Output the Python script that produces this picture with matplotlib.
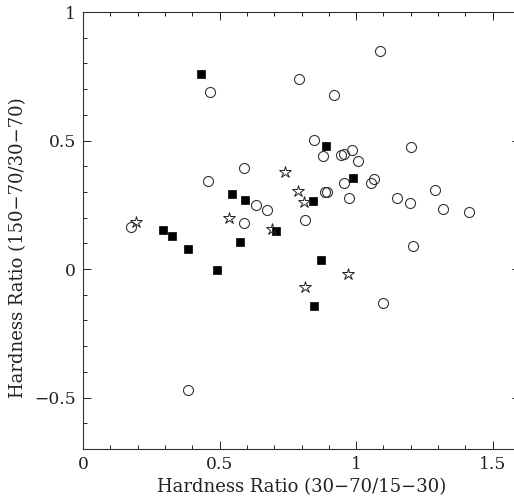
import matplotlib
matplotlib.use("Agg")
import matplotlib.pyplot as plt
from matplotlib.ticker import MultipleLocator, FuncFormatter

# Open circles
circles_x = [0.465, 0.591, 0.459, 0.632, 0.590, 0.176, 0.386, 1.088, 0.792, 0.919,
             0.845, 1.200, 0.984, 0.954, 0.944, 0.878, 1.006, 1.066, 1.053, 0.957,
             1.288, 0.885, 0.895, 1.151, 0.973, 1.196, 1.319, 1.414, 0.672, 0.814,
             1.207, 1.099]
circles_y = [0.688, 0.392, 0.342, 0.249, 0.180, 0.165, -0.471, 0.849, 0.738, 0.678,
             0.503, 0.476, 0.463, 0.449, 0.445, 0.438, 0.419, 0.350, 0.333, 0.336,
             0.306, 0.300, 0.300, 0.278, 0.275, 0.258, 0.232, 0.222, 0.230, 0.189,
             0.091, -0.131]

# Filled squares
squares_x = [0.432, 0.547, 0.592, 0.294, 0.325, 0.575, 0.383, 0.492, 0.890, 0.989,
             0.841, 0.708, 0.873, 0.847]
squares_y = [0.759, 0.293, 0.268, 0.153, 0.127, 0.106, 0.077, -0.004, 0.480, 0.355,
             0.266, 0.148, 0.035, -0.144]

# Open stars
stars_x = [0.193, 0.534, 0.738, 0.788, 0.808, 0.693, 0.969, 0.811]
stars_y = [0.184, 0.197, 0.377, 0.302, 0.259, 0.154, -0.018, -0.071]

xlabel = "Hardness Ratio (30\u221270/15\u221230)"
ylabel = "Hardness Ratio (150\u221270/30\u221270)"

plt.rcParams['font.family'] = ['DejaVu Serif']
plt.rcParams['axes.unicode_minus'] = True

W, H = 514, 501
fig = plt.figure(figsize=(W / 100, H / 100), dpi=100)
ax = fig.add_axes([83 / W, 1 - 449 / H, 437 / W, 437 / H])

ax.plot(circles_x, circles_y, linestyle='none', marker='o', markersize=7.2,
        markerfacecolor='none', markeredgecolor='#333333', markeredgewidth=0.8)
ax.plot(squares_x, squares_y, linestyle='none', marker='s', markersize=5.2,
        markerfacecolor='black', markeredgecolor='black', markeredgewidth=0.5)
ax.plot(stars_x, stars_y, linestyle='none', marker='*', markersize=9,
        markerfacecolor='none', markeredgecolor='#222222', markeredgewidth=0.7)

ax.set_xlim(0, 1.6)
ax.set_ylim(-0.7, 1.0)

ax.xaxis.set_major_locator(MultipleLocator(0.5))
ax.xaxis.set_minor_locator(MultipleLocator(0.1))
ax.yaxis.set_major_locator(MultipleLocator(0.5))
ax.yaxis.set_minor_locator(MultipleLocator(0.1))

fmt = FuncFormatter(lambda v, p: ("%g" % v).replace("-", "\u2212"))
ax.xaxis.set_major_formatter(fmt)
ax.yaxis.set_major_formatter(fmt)

ax.tick_params(which='both', direction='in', top=True, right=True,
               labelsize=12.3, width=0.7, colors='#222222')
ax.tick_params(which='major', length=5.8, pad=5)
ax.tick_params(which='minor', length=3)

for s in ax.spines.values():
    s.set_linewidth(0.8)
    s.set_color('#333333')

ax.set_xlabel(xlabel, fontsize=13, labelpad=4, color='#222222')
ax.set_ylabel(ylabel, fontsize=13, color='#222222')
ax.yaxis.set_label_coords(-0.128, (449 - 247.5) / 437)

fig.savefig("out.png", dpi=100)
